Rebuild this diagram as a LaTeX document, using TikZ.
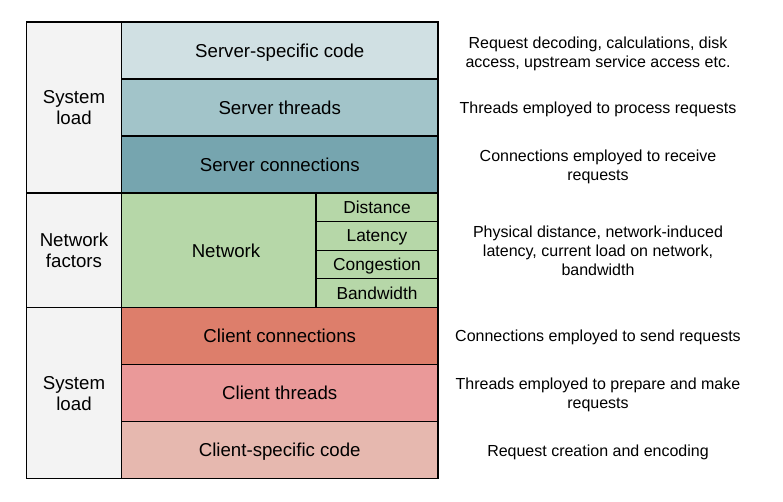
\documentclass[tikz,border=0pt]{standalone}
\usepackage{fontspec}
\setmainfont{Liberation Sans}
\definecolor{sidegray}{HTML}{F3F3F3}
\definecolor{srvcode}{HTML}{D0E0E3}
\definecolor{srvthr}{HTML}{A2C4C9}
\definecolor{srvcon}{HTML}{76A5AF}
\definecolor{netgreen}{HTML}{B6D7A8}
\definecolor{clicon}{HTML}{DD7E6B}
\definecolor{clithr}{HTML}{EA9999}
\definecolor{clicode}{HTML}{E6B8AF}
\tikzset{
  cell/.style={draw=black, line width=0.8pt, inner sep=0pt, align=center,
    text depth=0pt, font=\fontsize{14}{16}\selectfont},
  sidecell/.style={cell, fill=sidegray, minimum width=71.25pt,
    font=\fontsize{14}{15.75}\selectfont},
  maincell/.style={cell, minimum width=237.4pt, minimum height=42.75pt},
  subcell/.style={cell, fill=netgreen, minimum width=91.5pt, minimum height=21.45pt,
    font=\fontsize{13}{15}\selectfont},
  desc/.style={align=center, inner sep=0pt, text depth=0pt, font=\fontsize{12}{14.25}\selectfont}
}
\begin{document}
\begin{tikzpicture}[x=0.75pt,y=-0.75pt]
\useasboundingbox (0,0) rectangle (783,501);
% left column
\node[sidecell, minimum height=128.25pt] (sys1) at (74,107.5) {System\\load};
\node[sidecell, minimum height=85.8pt] (netf) at (74,250.25) {Network\\factors};
\node[sidecell, minimum height=128.25pt] (sys2) at (74,393) {System\\load};
% server rows
\node[maincell, fill=srvcode] (scode) at (279.75,50.5) {Server-specific code};
\node[maincell, fill=srvthr] (sthr) at (279.75,107.5) {Server threads};
\node[maincell, fill=srvcon] (scon) at (279.75,164.5) {Server connections};
% network
\node[cell, fill=netgreen, minimum width=145.9pt, minimum height=85.8pt] (net) at (218.75,250.25) {};
\node[cell, draw=none, fill=none] (netlbl) at (226,250.25) {Network};
\node[subcell] (dist) at (377,207.3) {Distance};
\node[subcell] (lat) at (377,235.9) {Latency};
\node[subcell] (cong) at (377,264.5) {Congestion};
\node[subcell] (bw) at (377,293.1) {Bandwidth};
% client rows
\node[maincell, fill=clicon] (ccon) at (279.75,336) {Client connections};
\node[maincell, fill=clithr] (cthr) at (279.75,393) {Client threads};
\node[maincell, fill=clicode] (ccode) at (279.75,450) {Client-specific code};
% descriptions
\node[desc] (d1) at (598,52) {Request decoding, calculations, disk\\access, upstream service access etc.};
\node[desc] (d2) at (598,108) {Threads employed to process requests};
\node[desc] (d3) at (598,165.5) {Connections employed to receive\\requests};
\node[desc] (d4) at (598,251) {Physical distance, network-induced\\latency, current load on network,\\bandwidth};
\node[desc] (d5) at (598,336) {Connections employed to send requests};
\node[desc] (d6) at (598,393.5) {Threads employed to prepare and make\\requests};
\node[desc] (d7) at (598,451) {Request creation and encoding};
\end{tikzpicture}
\end{document}
